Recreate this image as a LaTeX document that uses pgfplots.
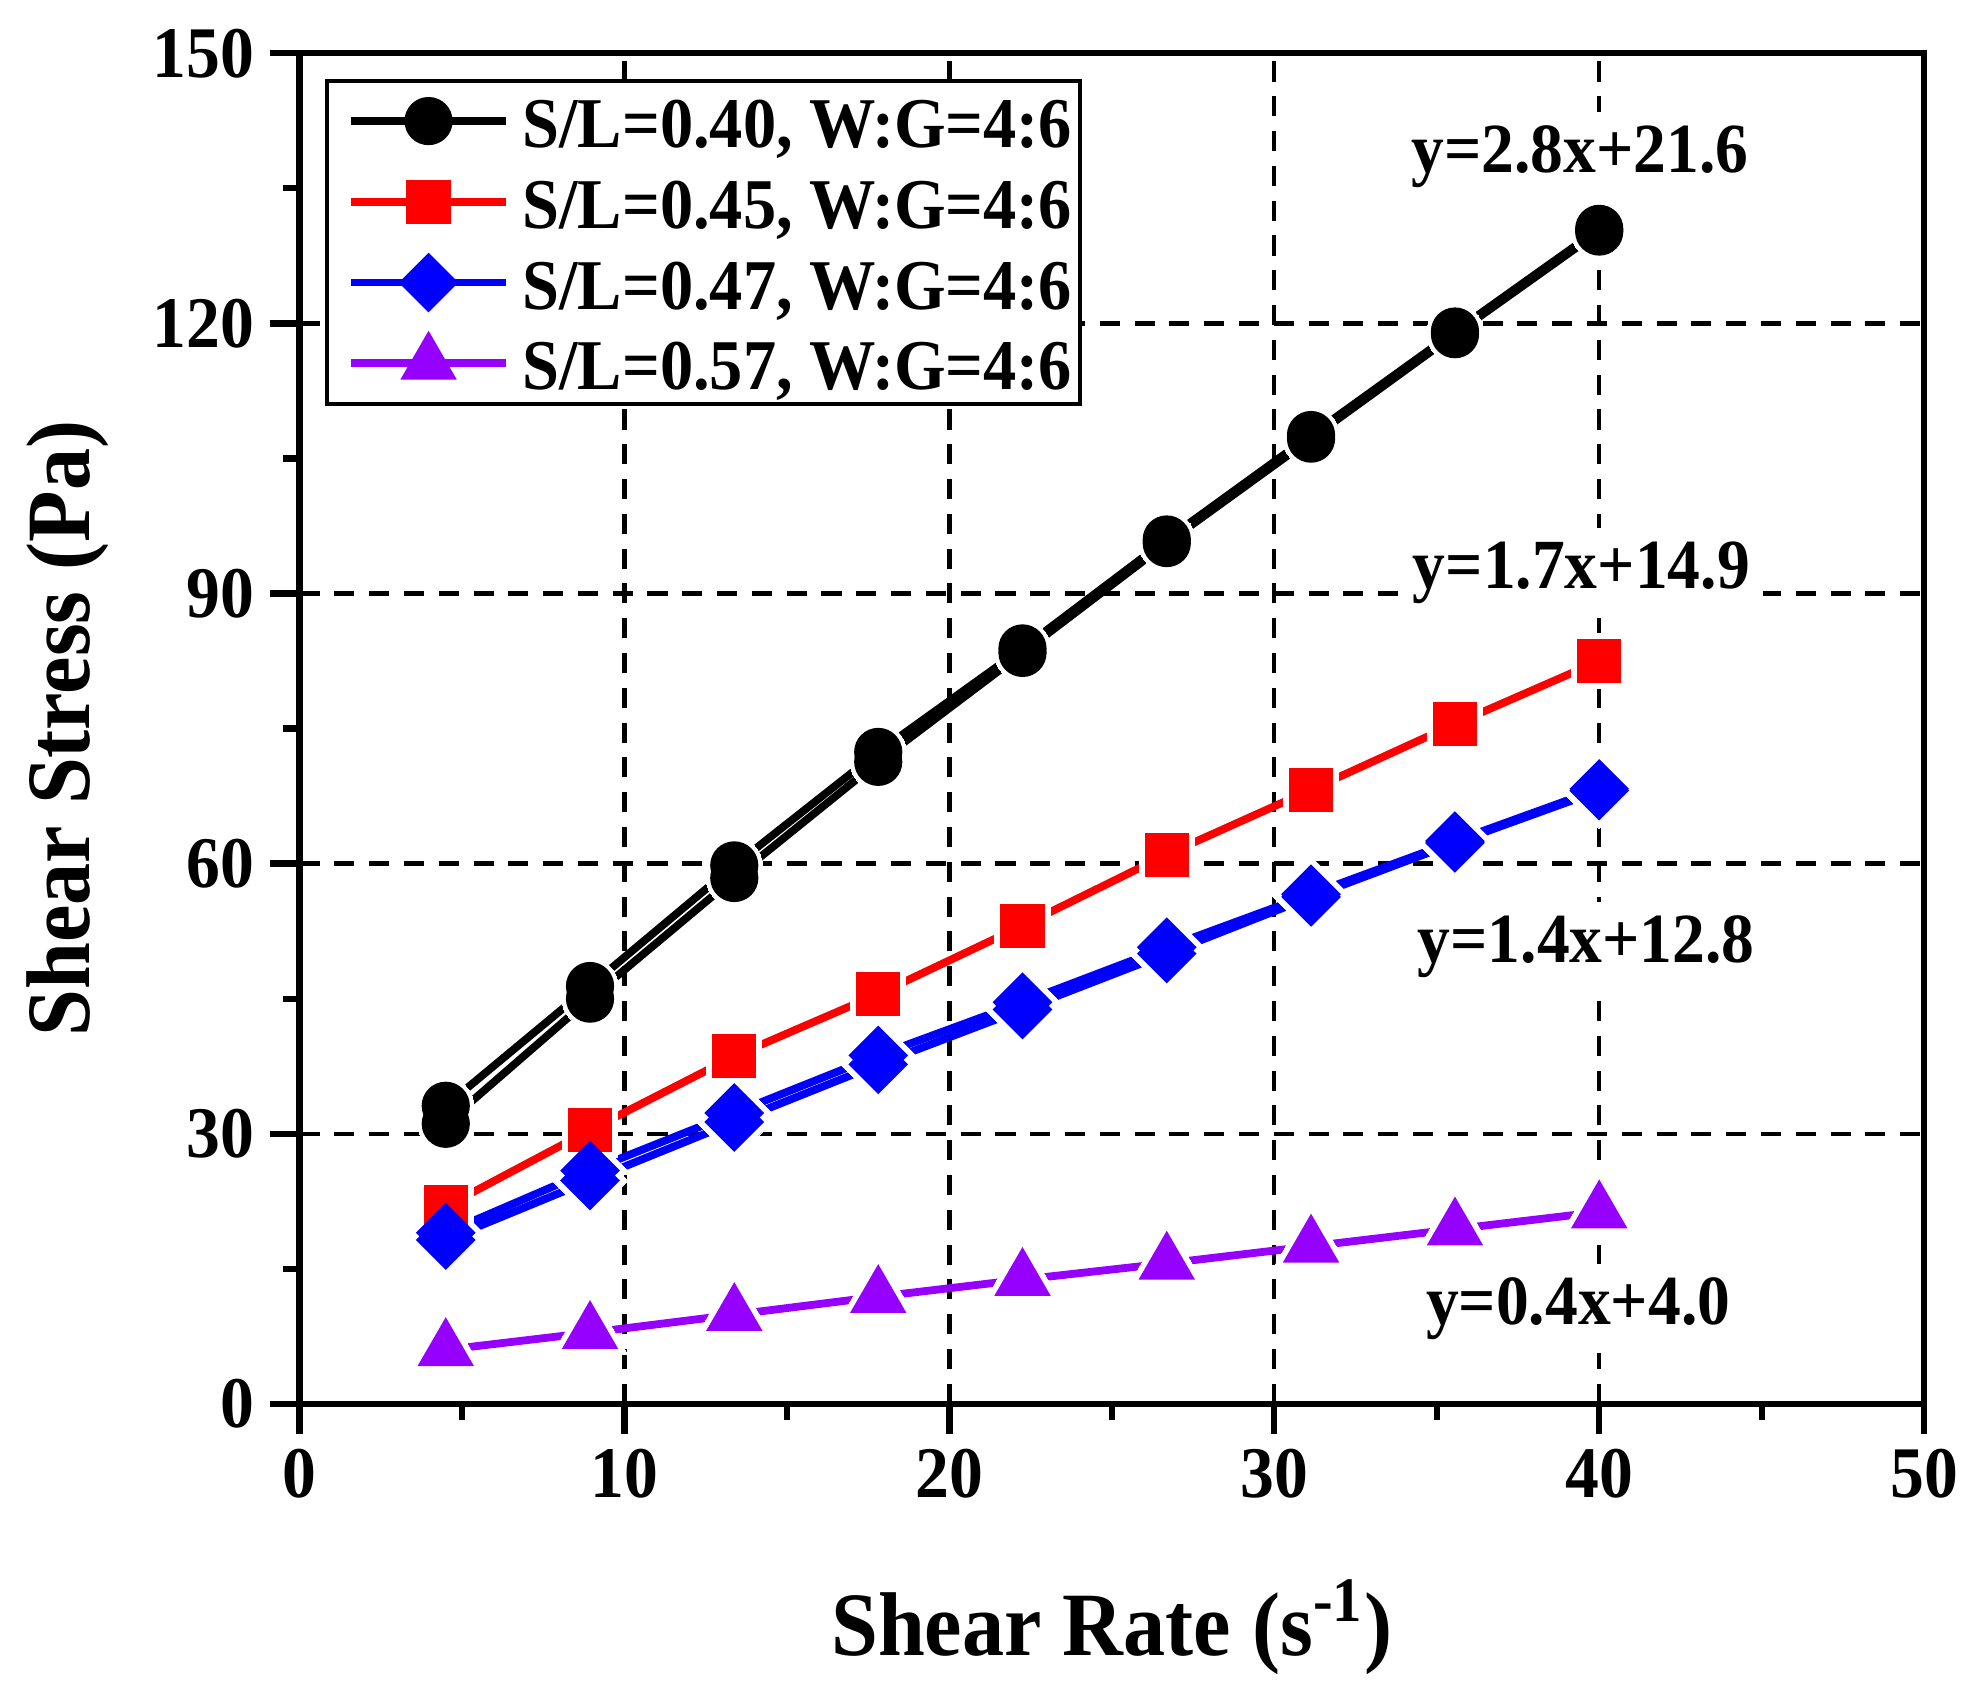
\documentclass[border=0pt]{standalone}
\usepackage{fontspec}
\setmainfont[FakeStretch=0.93]{Liberation Serif}
\usepackage{pgfplots}
\pgfplotsset{compat=1.18}
\usepackage{pgfplotstable}

\definecolor{cred}{RGB}{255,0,0}
\definecolor{cblue}{RGB}{0,0,255}
\definecolor{cpurple}{RGB}{150,0,255}

\pgfplotstableread{
x a b
4.50 33.1 31.1
8.94 46.4 45.0
13.38 59.8 58.4
17.81 72.4 71.3
22.25 83.9 83.4
26.69 96.0 95.6
31.13 107.6 107.2
35.56 119.1 118.8
40.00 130.5 130.2
}\blk

\pgfplotstableread{
x a
4.50 21.9
8.94 30.4
13.38 38.6
17.81 45.5
22.25 53.1
26.69 61.0
31.13 68.2
35.56 75.5
40.00 82.5
}\red

\pgfplotstableread{
x a b
4.50 19.0 18.2
8.94 25.9 24.8
13.38 32.3 31.3
17.81 38.7 37.7
22.25 44.6 43.8
26.69 50.7 50.0
31.13 56.6 56.3
35.56 62.5 62.3
40.00 68.3 68.1
}\blu

\pgfplotstableread{
x a
4.50 6.0
8.94 7.9
13.38 9.9
17.81 11.9
22.25 13.8
26.69 15.6
31.13 17.5
35.56 19.4
40.00 21.3
}\pur

\begin{document}
\begin{tikzpicture}
\begin{axis}[
  name=ax,
  scale only axis, width=12.80cm, height=10.64cm,
  xmin=0, xmax=50, ymin=0, ymax=150,
  xtick={0,10,...,50}, ytick={0,30,...,150},
  minor x tick num=1, minor y tick num=1,
  tick pos=left, tick align=outside,
  major tick length=0.236cm, minor tick length=0.13cm,
  tick style={black, line width=1.4pt},
  axis line style={line width=1.4pt},
  grid=major,
  major grid style={black, line width=0.95pt, dash pattern=on 4.5pt off 3.3pt},
  /pgf/number format/assume math mode=true,
  tick label style={font=\fontsize{16.3}{19}\selectfont\bfseries},
  label style={font=\fontsize{20.3}{24}\selectfont\bfseries},
  xlabel={Shear Rate (s\textsuperscript{-1})},
  ylabel={Shear Stress (Pa)},
  xlabel style={at={([yshift=-1.98cm]axis description cs:0.5,0)}, anchor=base},
  ylabel style={at={([xshift=-1.655cm]axis description cs:0,0.5)}, anchor=base},
  legend image code/.code={
    \path (0cm,0cm) (1.42cm,0cm);
    \draw[mark repeat=2,mark phase=2,#1] plot coordinates {(0.1cm,0cm) (0.71cm,0cm) (1.32cm,0cm)};
  },
  legend cell align=left,
  legend style={at={(axis description cs:0,1)}, anchor=north west,
    xshift=0.2cm, yshift=-0.2cm,
    draw=black, line width=0.9pt, fill=white,
    font=\fontsize{16}{19}\selectfont\bfseries,
    inner xsep=0.06cm, inner ysep=0pt, row sep=0pt,
    nodes={inner xsep=0pt, inner ysep=0pt, text height=15pt, text depth=3.1pt}},
]
% legend images
\addlegendimage{black, line width=1.75pt, mark=*, mark size=5.25pt, mark options={solid, draw=black, fill=black, line width=0.3pt}}
\addlegendentry{S/L=0.40, W:G=4:6}
\addlegendimage{cred, line width=1.75pt, mark=square*, mark size=4.8pt, mark options={solid, draw=cred, fill=cred, line width=0.3pt}}
\addlegendentry{S/L=0.45, W:G=4:6}
\addlegendimage{cblue, line width=1.75pt, mark=square*, mark size=4.58pt, mark options={solid, rotate=45, draw=cblue, fill=cblue, line width=0.3pt}}
\addlegendentry{S/L=0.47, W:G=4:6}
\addlegendimage{cpurple, line width=1.75pt, mark=triangle*, mark size=7pt, mark options={solid, draw=cpurple, fill=cpurple, line width=0.3pt}}
\addlegendentry{S/L=0.57, W:G=4:6}

% lines
\addplot[black, line width=1.75pt, forget plot] table[x=x, y=a] {\blk};
\addplot[black, line width=1.75pt, forget plot] table[x=x, y=b] {\blk};
\addplot[cred, line width=1.75pt, forget plot] table[x=x, y=a] {\red};
\addplot[cblue, line width=1.75pt, forget plot] table[x=x, y=a] {\blu};
\addplot[cblue, line width=1.75pt, forget plot] table[x=x, y=b] {\blu};
\addplot[cpurple, line width=1.75pt, forget plot] table[x=x, y=a] {\pur};

% white halos (gaps of the lines at the markers)
\addplot[white, only marks, forget plot, mark=*, mark size=6.3pt, mark options={draw=white, fill=white, line width=0pt}] table[x=x, y=a] {\blk};
\addplot[white, only marks, forget plot, mark=*, mark size=6.3pt, mark options={draw=white, fill=white, line width=0pt}] table[x=x, y=b] {\blk};
\addplot[white, only marks, forget plot, mark=square*, mark size=6.2pt, mark options={draw=white, fill=white, line width=0pt}] table[x=x, y=a] {\red};
\addplot[white, only marks, forget plot, mark=square*, mark size=6.0pt, mark options={rotate=45, draw=white, fill=white, line width=0pt}] table[x=x, y=a] {\blu};
\addplot[white, only marks, forget plot, mark=square*, mark size=6.0pt, mark options={rotate=45, draw=white, fill=white, line width=0pt}] table[x=x, y=b] {\blu};
\addplot[white, only marks, forget plot, mark=triangle*, mark size=9.8pt, mark options={draw=white, fill=white, line width=0pt}] table[x=x, y=a] {\pur};

% markers
\addplot[black, only marks, forget plot, mark=*, mark size=5.25pt, mark options={draw=black, fill=black, line width=0.3pt}] table[x=x, y=a] {\blk};
\addplot[black, only marks, forget plot, mark=*, mark size=5.25pt, mark options={draw=black, fill=black, line width=0.3pt}] table[x=x, y=b] {\blk};
\addplot[cred, only marks, forget plot, mark=square*, mark size=4.8pt, mark options={draw=cred, fill=cred, line width=0.3pt}] table[x=x, y=a] {\red};
\addplot[cblue, only marks, forget plot, mark=square*, mark size=4.58pt, mark options={rotate=45, draw=cblue, fill=cblue, line width=0.3pt}] table[x=x, y=a] {\blu};
\addplot[cblue, only marks, forget plot, mark=square*, mark size=4.58pt, mark options={rotate=45, draw=cblue, fill=cblue, line width=0.3pt}] table[x=x, y=b] {\blu};
\addplot[cpurple, only marks, forget plot, mark=triangle*, mark size=7pt, mark options={draw=cpurple, fill=cpurple, line width=0.3pt}] table[x=x, y=a] {\pur};

% fitted equations
\node[anchor=base, fill=white, inner sep=3pt, font=\fontsize{15.8}{18}\selectfont\bfseries] at (axis cs:39.4,136.8) {y=2.8x+21.6};
\node[anchor=base, fill=white, inner sep=3pt, font=\fontsize{15.8}{18}\selectfont\bfseries] at (axis cs:39.45,90.6) {y=1.7x+14.9};
\node[anchor=base, fill=white, inner sep=3pt, font=\fontsize{15.8}{18}\selectfont\bfseries] at (axis cs:39.6,49.0) {y=1.4x+12.8};
\node[anchor=base, fill=white, inner sep=3pt, font=\fontsize{15.8}{18}\selectfont\bfseries] at (axis cs:39.35,8.8) {y=0.4x+4.0};
\end{axis}
\path ([xshift=-2.36cm,yshift=-2.28cm]ax.south west) rectangle ([xshift=0.44cm,yshift=0.42cm]ax.north east);
\end{tikzpicture}
\end{document}
